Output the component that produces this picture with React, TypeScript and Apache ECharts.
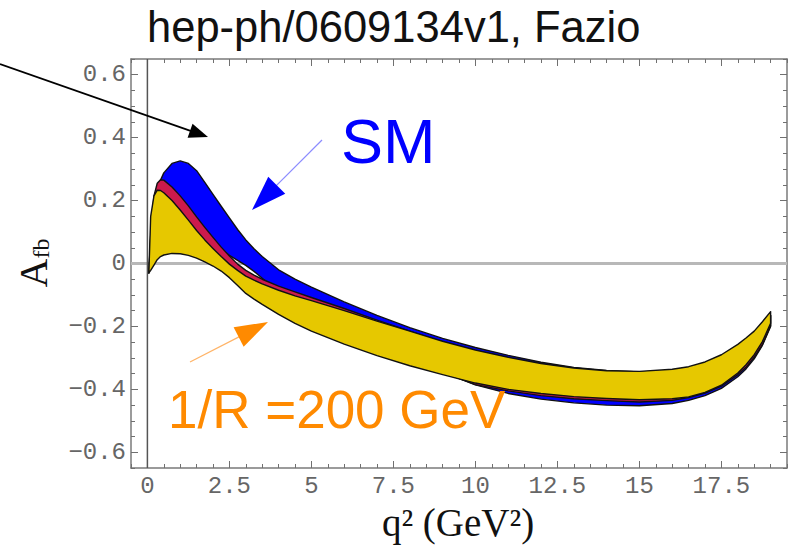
import React, { useEffect, useRef } from "react";
import * as echarts from "echarts";

// q^2 sample points (GeV^2)
const Q = [0.045, 0.1, 0.2, 0.3, 0.4, 0.5, 0.75, 1, 1.25, 1.5, 1.75, 2, 2.25, 2.5, 2.75, 3, 3.25, 3.5, 4, 4.5, 5, 6, 7, 8, 9, 10, 11, 12, 13, 14, 15, 16, 16.5, 17, 17.5, 18, 18.25, 18.5, 18.75, 19];

// SM band (blue)
const SM_UPPER = [-0.03, 0.08, 0.18, 0.235, 0.265, 0.288, 0.318, 0.326, 0.318, 0.295, 0.258, 0.22, 0.182, 0.145, 0.108, 0.075, 0.047, 0.022, -0.02, -0.05, -0.075, -0.122, -0.165, -0.204, -0.238, -0.267, -0.292, -0.314, -0.33, -0.34, -0.345, -0.34, -0.332, -0.318, -0.295, -0.262, -0.242, -0.22, -0.19, -0.165];
const SM_LOWER = [-0.03, 0.05, 0.15, 0.2, 0.215, 0.218, 0.2, 0.178, 0.15, 0.122, 0.095, 0.068, 0.045, 0.026, 0.01, -0.006, -0.025, -0.047, -0.09, -0.125, -0.155, -0.205, -0.255, -0.3, -0.345, -0.386, -0.413, -0.431, -0.443, -0.45, -0.452, -0.445, -0.435, -0.42, -0.397, -0.36, -0.335, -0.303, -0.26, -0.2];

// intermediate band (red)
const MID_UPPER = [-0.03, 0.09, 0.215, 0.255, 0.266, 0.265, 0.243, 0.215, 0.183, 0.148, 0.115, 0.083, 0.052, 0.024, -0.002, -0.022, -0.037, -0.05, -0.072, -0.09, -0.108, -0.143, -0.18, -0.215, -0.25, -0.28, -0.305, -0.325, -0.34, -0.35, -0.352, -0.345, -0.337, -0.322, -0.3, -0.265, -0.245, -0.222, -0.192, -0.165];
const MID_LOWER = [-0.03, 0.06, 0.18, 0.21, 0.215, 0.21, 0.185, 0.155, 0.125, 0.09, 0.06, 0.035, 0.01, -0.015, -0.035, -0.055, -0.07, -0.08, -0.1, -0.12, -0.14, -0.2, -0.25, -0.3, -0.345, -0.385, -0.405, -0.42, -0.43, -0.436, -0.44, -0.435, -0.426, -0.412, -0.39, -0.353, -0.33, -0.298, -0.258, -0.198];

// 1/R = 200 GeV band (yellow)
const R200_UPPER = [-0.03, 0.15, 0.215, 0.233, 0.232, 0.225, 0.2, 0.17, 0.138, 0.105, 0.075, 0.048, 0.022, -0.002, -0.022, -0.04, -0.053, -0.065, -0.085, -0.103, -0.118, -0.15, -0.183, -0.215, -0.247, -0.275, -0.298, -0.318, -0.332, -0.341, -0.343, -0.336, -0.328, -0.313, -0.29, -0.257, -0.237, -0.215, -0.185, -0.153];
const R200_LOWER = [-0.03, -0.022, -0.005, 0.012, 0.022, 0.027, 0.032, 0.031, 0.026, 0.017, 0.005, -0.008, -0.024, -0.045, -0.07, -0.095, -0.113, -0.13, -0.162, -0.19, -0.215, -0.256, -0.293, -0.325, -0.353, -0.38, -0.4, -0.413, -0.423, -0.429, -0.433, -0.43, -0.424, -0.41, -0.387, -0.348, -0.322, -0.29, -0.248, -0.19];

const X_TICKS = [0, 2.5, 5, 7.5, 10, 12.5, 15, 17.5];
const Y_TICKS = [-0.6, -0.4, -0.2, 0, 0.2, 0.4, 0.6];
const X_RANGE = [-0.5, 19.5];
const Y_RANGE = [-0.65, 0.65];

const BANDS = [
  { upper: SM_UPPER, lower: SM_LOWER, color: "#0000ff" },
  { upper: MID_UPPER, lower: MID_LOWER, color: "#cc1a4c" },
  { upper: R200_UPPER, lower: R200_LOWER, color: "#e6c800" },
];

const MONO = '"Liberation Mono", "DejaVu Sans Mono", monospace';
const SANS = '"Liberation Sans", Arial, sans-serif';
const SERIF = '"Liberation Serif", "Times New Roman", serif';

function arrow(x1: number, y1: number, x2: number, y2: number, len: number, half: number, lineColor: string, lineWidth: number, headColor: string) {
  const dx = x2 - x1, dy = y2 - y1;
  const d = Math.sqrt(dx * dx + dy * dy);
  const ux = dx / d, uy = dy / d;
  const bx = x2 - ux * len, by = y2 - uy * len;
  const px = -uy, py = ux;
  return [
    { type: "line", shape: { x1, y1, x2: bx + ux * 2, y2: by + uy * 2 }, style: { stroke: lineColor, lineWidth }, z: 10 },
    {
      type: "polygon",
      shape: { points: [[x2, y2], [bx + px * half, by + py * half], [bx - px * half, by - py * half]] },
      style: { fill: headColor },
      z: 10,
    },
  ];
}

export default function App() {
  const ref = useRef<HTMLDivElement>(null);
  useEffect(() => {
    if (!ref.current) return;
    const chart = echarts.init(ref.current, null, { renderer: "svg" });
    const frame = { show: true, onZero: false, lineStyle: { color: "#7a7a7a", width: 1.5 } };
    const tickStyle = { color: "#707070", width: 1 };
    const xFmt = (v: number) => String(v);
    const yFmt = (v: number) => (v === 0 ? "0" : (v < 0 ? "\u2212" : "") + Math.abs(v).toFixed(1));
    const labelStyle = { fontFamily: MONO, fontSize: 24, color: "#666" };
    const gridRect = { left: 131, top: 59, width: 656, height: 409, outerBoundsMode: "none" };

    const majorX = (pos: string, labels: boolean) => ({
      type: "value", gridIndex: 0, position: pos, min: X_RANGE[0], max: X_RANGE[1],
      axisLine: frame,
      axisTick: { show: true, inside: true, length: 7, customValues: X_TICKS, lineStyle: tickStyle },
      axisLabel: labels ? { show: true, customValues: X_TICKS, formatter: xFmt, margin: 5, lineHeight: 26, ...labelStyle } : { show: false },
      splitLine: { show: false },
    });
    const minorX = (pos: string) => ({
      type: "value", gridIndex: 1, position: pos, min: X_RANGE[0], max: X_RANGE[1], interval: 0.5,
      axisLine: { show: false, onZero: false },
      axisTick: { show: true, inside: true, length: 4, lineStyle: tickStyle },
      axisLabel: { show: false }, splitLine: { show: false },
    });
    const majorY = (pos: string, labels: boolean) => ({
      type: "value", gridIndex: 0, position: pos, min: Y_RANGE[0], max: Y_RANGE[1],
      axisLine: frame,
      axisTick: { show: true, inside: true, length: 7, customValues: Y_TICKS, lineStyle: tickStyle },
      axisLabel: labels ? { show: true, customValues: Y_TICKS, formatter: yFmt, margin: 5, ...labelStyle } : { show: false },
      splitLine: { show: false },
    });
    const minorY = (pos: string) => ({
      type: "value", gridIndex: 1, position: pos, min: Y_RANGE[0], max: Y_RANGE[1], interval: 0.05,
      axisLine: { show: false, onZero: false },
      axisTick: { show: true, inside: true, length: 4, lineStyle: tickStyle },
      axisLabel: { show: false }, splitLine: { show: false },
    });

    const option: any = {
      animation: false,
      backgroundColor: "#ffffff",
      textStyle: { fontFamily: SANS },
      grid: [gridRect, gridRect],
      xAxis: [majorX("bottom", true), majorX("top", false), minorX("bottom"), minorX("top")],
      yAxis: [majorY("left", true), majorY("right", false), minorY("left"), minorY("right")],
      series: [
        {
          type: "custom", xAxisIndex: 0, yAxisIndex: 0, z: 1, silent: true,
          data: [[0, 0]],
          renderItem: (_p: any, api: any) => {
            const a = api.coord([X_RANGE[0], 0]);
            const b = api.coord([X_RANGE[1], 0]);
            const c = api.coord([0, Y_RANGE[0]]);
            const d = api.coord([0, Y_RANGE[1]]);
            return {
              type: "group",
              children: [
                { type: "line", shape: { x1: a[0], y1: a[1], x2: b[0], y2: b[1] }, style: { stroke: "#b8b8b8", lineWidth: 3 } },
                { type: "line", shape: { x1: c[0], y1: c[1], x2: d[0], y2: d[1] }, style: { stroke: "#555", lineWidth: 1.5 } },
              ],
            };
          },
        },
        {
          type: "custom", xAxisIndex: 0, yAxisIndex: 0, z: 2, silent: true,
          data: BANDS.map((_b, i) => [i]),
          renderItem: (params: any, api: any) => {
            const band = BANDS[params.dataIndex];
            const top = Q.map((q, i) => api.coord([q, band.upper[i]]));
            const bottom = Q.map((q, i) => api.coord([q, band.lower[i]])).reverse();
            return {
              type: "polygon",
              shape: { points: top.concat(bottom) },
              style: { fill: band.color, stroke: "#111", lineWidth: 1.4, lineJoin: "round" },
            };
          },
        },
      ],
      graphic: [
        {
          type: "text", x: 147, y: 27, z: 20,
          style: { text: "hep-ph/0609134v1, Fazio", fontSize: 43.5, fontFamily: SANS, fill: "#111", verticalAlign: "middle", align: "left" },
        },
        {
          type: "text", x: 341, y: 141, z: 20,
          style: { text: "SM", fontSize: 63, fontFamily: SANS, fill: "#0000ff", verticalAlign: "middle", align: "left" },
        },
        {
          type: "text", x: 168, y: 409, z: 20,
          style: { text: "1/R =200 GeV", fontSize: 53, fontFamily: SANS, fill: "#ff8a00", verticalAlign: "middle", align: "left" },
        },
        ...arrow(0, 64, 208, 137, 19, 7.5, "#000", 1.8, "#000"),
        ...arrow(322, 140, 252, 210, 35, 12, "#8c8cff", 1.2, "#0000ff"),
        ...arrow(190, 362, 268, 322, 33, 11, "#ffb468", 1.2, "#ff8a00"),
        {
          type: "text", x: 33, y: 263, rotation: Math.PI / 2, z: 20,
          style: {
            text: "{a|A}{b|fb}", align: "center", verticalAlign: "middle", fill: "#111",
            rich: {
              a: { fontSize: 40, fontFamily: SERIF, fill: "#111" },
              b: { fontSize: 24, fontFamily: SERIF, fill: "#111", verticalAlign: "bottom" },
            },
          },
        },
        {
          type: "text", x: 458, y: 522, z: 20,
          style: { text: "q\u00b2 (GeV\u00b2)", fontSize: 39, lineHeight: 40, fontFamily: SERIF, fill: "#111", verticalAlign: "middle", align: "center" },
        },
      ],
    };
    chart.setOption(option);
    return () => chart.dispose();
  }, []);
  return <div ref={ref} style={{ position: "fixed", left: 0, top: 0, width: 789, height: 547, background: "#fff" }} />;
}
